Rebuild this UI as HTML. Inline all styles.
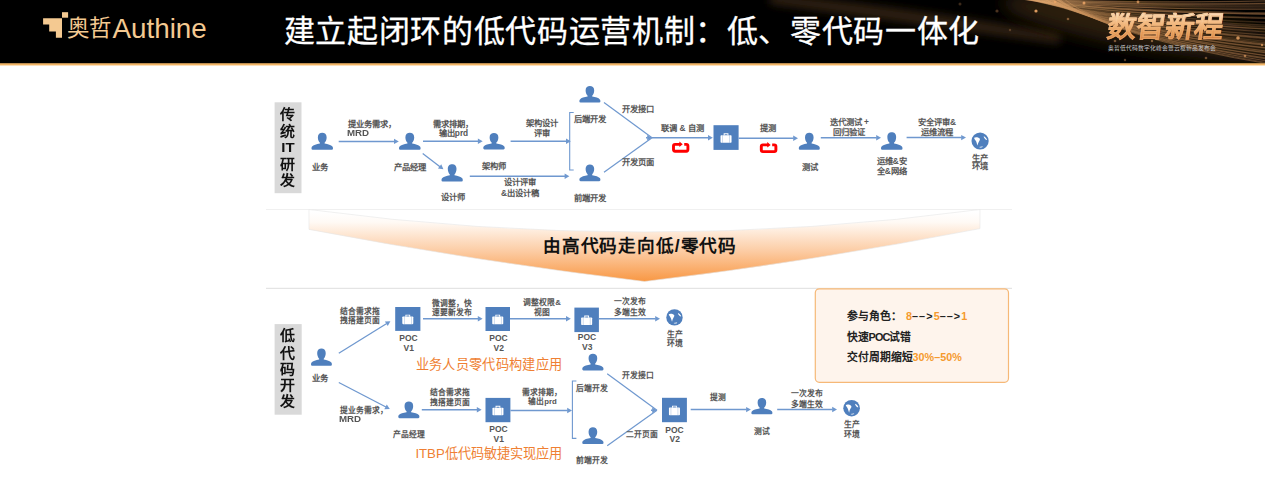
<!DOCTYPE html>
<html lang="zh-CN"><head><meta charset="utf-8"><style>
html,body{margin:0;padding:0;background:#fff;}
body{width:1265px;height:502px;position:relative;overflow:hidden;font-family:"Liberation Sans",sans-serif;}
.t{position:absolute;white-space:nowrap;line-height:1;}
#hdr{position:absolute;left:0;top:0;width:1265px;height:63px;background:#000;overflow:hidden;}
#hline{position:absolute;left:0;top:63px;width:1265px;height:3px;background:linear-gradient(#a27a46 0%,#f2b566 50%,#fff3e2 100%);}
</style></head><body>
<div id="hdr">
<svg width="1265" height="63" style="position:absolute;left:0;top:0">
<defs>
<radialGradient id="glow" cx="1100" cy="10" r="260" gradientUnits="userSpaceOnUse">
<stop offset="0" stop-color="#3a2616" stop-opacity="0.8"/><stop offset="0.6" stop-color="#1e140c" stop-opacity="0.5"/><stop offset="1" stop-color="#000" stop-opacity="0"/></radialGradient>
<filter id="bl4" x="-20%" y="-50%" width="140%" height="200%"><feGaussianBlur stdDeviation="4"/></filter>
<filter id="bl8" x="-50%" y="-100%" width="200%" height="300%"><feGaussianBlur stdDeviation="8"/></filter>
<filter id="bl05" x="-5%" y="-50%" width="110%" height="200%"><feGaussianBlur stdDeviation="0.5"/></filter>
<linearGradient id="gold" x1="0" y1="12" x2="0" y2="40" gradientUnits="userSpaceOnUse">
<stop offset="0" stop-color="#fde3c0"/><stop offset="0.55" stop-color="#eab47c"/><stop offset="1" stop-color="#c47f45"/></linearGradient>
</defs>

<defs><linearGradient id="sg" x1="980" y1="0" x2="1265" y2="30" gradientUnits="userSpaceOnUse"><stop offset="0" stop-color="#c89060" stop-opacity="0.15"/><stop offset="0.22" stop-color="#dca46c" stop-opacity="0.7"/><stop offset="0.45" stop-color="#b98350" stop-opacity="0.75"/><stop offset="1" stop-color="#946640" stop-opacity="0.8"/></linearGradient></defs><g filter="url(#bl4)"><path d="M770 -6 Q900 6 1060 34 L1060 44 Q890 20 770 4 Z" fill="#563822" opacity="0.55"/></g><g filter="url(#bl8)"><ellipse cx="1150" cy="28" rx="150" ry="22" transform="rotate(10 1150 28)" fill="#3c2816" opacity="0.7"/></g><g filter="url(#bl05)"><path d="M986.2 -6.0 Q1065.0 5.0 1275.0 0.7" stroke="url(#sg)" stroke-width="1.26" fill="none" opacity="0.71"/><path d="M989.0 -6.0 Q1065.9 5.7 1275.0 2.7" stroke="url(#sg)" stroke-width="0.93" fill="none" opacity="0.36"/><path d="M992.5 -6.0 Q1066.8 6.4 1275.0 3.3" stroke="url(#sg)" stroke-width="0.68" fill="none" opacity="0.76"/><path d="M989.4 -6.0 Q1067.7 7.1 1275.0 3.5" stroke="url(#sg)" stroke-width="1.00" fill="none" opacity="0.59"/><path d="M986.4 -6.0 Q1068.6 7.8 1275.0 4.8" stroke="url(#sg)" stroke-width="1.24" fill="none" opacity="0.48"/><path d="M995.4 -6.0 Q1069.4 8.6 1275.0 6.1" stroke="url(#sg)" stroke-width="0.70" fill="none" opacity="0.71"/><path d="M995.5 -6.0 Q1070.3 9.3 1275.0 7.4" stroke="url(#sg)" stroke-width="1.21" fill="none" opacity="0.35"/><path d="M993.0 -6.0 Q1071.2 10.0 1275.0 9.1" stroke="url(#sg)" stroke-width="1.21" fill="none" opacity="0.79"/><path d="M995.3 -6.0 Q1072.1 10.7 1275.0 12.8" stroke="url(#sg)" stroke-width="1.07" fill="none" opacity="0.59"/><path d="M996.0 -6.0 Q1073.0 11.4 1275.0 14.1" stroke="url(#sg)" stroke-width="1.28" fill="none" opacity="0.66"/><path d="M1004.5 -6.0 Q1073.9 12.1 1275.0 13.6" stroke="url(#sg)" stroke-width="0.72" fill="none" opacity="0.51"/><path d="M998.6 -6.0 Q1074.8 12.8 1275.0 14.3" stroke="url(#sg)" stroke-width="1.02" fill="none" opacity="0.49"/><path d="M998.7 -6.0 Q1075.7 13.5 1275.0 17.6" stroke="url(#sg)" stroke-width="0.82" fill="none" opacity="0.50"/><path d="M1008.4 -6.0 Q1076.6 14.2 1275.0 18.4" stroke="url(#sg)" stroke-width="0.94" fill="none" opacity="0.49"/><path d="M1008.8 -6.0 Q1077.4 15.0 1275.0 18.6" stroke="url(#sg)" stroke-width="0.62" fill="none" opacity="0.79"/><path d="M1010.8 -6.0 Q1078.3 15.7 1275.0 22.4" stroke="url(#sg)" stroke-width="1.15" fill="none" opacity="0.36"/><path d="M1008.6 -6.0 Q1079.2 16.4 1275.0 23.0" stroke="url(#sg)" stroke-width="0.63" fill="none" opacity="0.35"/><path d="M1008.3 -6.0 Q1080.1 17.1 1275.0 25.5" stroke="url(#sg)" stroke-width="1.13" fill="none" opacity="0.44"/><path d="M1017.3 -6.0 Q1081.0 17.8 1275.0 26.9" stroke="url(#sg)" stroke-width="0.85" fill="none" opacity="0.50"/><path d="M1014.8 -6.0 Q1081.9 18.5 1275.0 27.8" stroke="url(#sg)" stroke-width="1.12" fill="none" opacity="0.40"/><path d="M1019.1 -6.0 Q1082.8 19.2 1275.0 29.5" stroke="url(#sg)" stroke-width="1.26" fill="none" opacity="0.37"/><path d="M1013.6 -6.0 Q1083.7 19.9 1275.0 29.4" stroke="url(#sg)" stroke-width="1.24" fill="none" opacity="0.62"/><path d="M1017.6 -6.0 Q1084.6 20.6 1275.0 32.6" stroke="url(#sg)" stroke-width="0.82" fill="none" opacity="0.60"/><path d="M1018.9 -6.0 Q1085.4 21.4 1275.0 31.7" stroke="url(#sg)" stroke-width="0.70" fill="none" opacity="0.39"/><path d="M1024.2 -6.0 Q1086.3 22.1 1275.0 35.6" stroke="url(#sg)" stroke-width="0.63" fill="none" opacity="0.42"/><path d="M1028.8 -6.0 Q1087.2 22.8 1275.0 35.7" stroke="url(#sg)" stroke-width="0.77" fill="none" opacity="0.53"/><path d="M1026.4 -6.0 Q1088.1 23.5 1275.0 38.0" stroke="url(#sg)" stroke-width="0.90" fill="none" opacity="0.56"/><path d="M1022.6 -6.0 Q1089.0 24.2 1275.0 39.6" stroke="url(#sg)" stroke-width="0.95" fill="none" opacity="0.36"/><path d="M1031.9 -6.0 Q1089.9 24.9 1275.0 38.7" stroke="url(#sg)" stroke-width="1.26" fill="none" opacity="0.68"/><path d="M1031.4 -6.0 Q1090.8 25.6 1275.0 42.1" stroke="url(#sg)" stroke-width="0.90" fill="none" opacity="0.40"/><path d="M1028.2 -6.0 Q1091.7 26.3 1275.0 43.7" stroke="url(#sg)" stroke-width="0.92" fill="none" opacity="0.48"/><path d="M1038.2 -6.0 Q1092.6 27.0 1275.0 45.1" stroke="url(#sg)" stroke-width="0.92" fill="none" opacity="0.79"/><path d="M1034.7 -6.0 Q1093.4 27.8 1275.0 46.2" stroke="url(#sg)" stroke-width="0.80" fill="none" opacity="0.57"/><path d="M1035.4 -6.0 Q1094.3 28.5 1275.0 45.9" stroke="url(#sg)" stroke-width="1.29" fill="none" opacity="0.52"/><path d="M1042.5 -6.0 Q1095.2 29.2 1275.0 48.7" stroke="url(#sg)" stroke-width="0.84" fill="none" opacity="0.57"/><path d="M1035.3 -6.0 Q1096.1 29.9 1275.0 49.1" stroke="url(#sg)" stroke-width="1.21" fill="none" opacity="0.70"/><path d="M1039.6 -6.0 Q1097.0 30.6 1275.0 52.1" stroke="url(#sg)" stroke-width="1.09" fill="none" opacity="0.70"/><path d="M1044.2 -6.0 Q1097.9 31.3 1275.0 53.4" stroke="url(#sg)" stroke-width="1.09" fill="none" opacity="0.51"/><path d="M1041.9 -6.0 Q1098.8 32.0 1275.0 54.0" stroke="url(#sg)" stroke-width="1.08" fill="none" opacity="0.70"/><path d="M1043.6 -6.0 Q1099.7 32.7 1275.0 56.8" stroke="url(#sg)" stroke-width="1.01" fill="none" opacity="0.64"/><path d="M1042.3 -6.0 Q1100.6 33.4 1275.0 57.0" stroke="url(#sg)" stroke-width="1.07" fill="none" opacity="0.46"/><path d="M1048.4 -6.0 Q1101.4 34.2 1275.0 59.3" stroke="url(#sg)" stroke-width="1.16" fill="none" opacity="0.64"/><path d="M1048.8 -6.0 Q1102.3 34.9 1275.0 60.2" stroke="url(#sg)" stroke-width="1.18" fill="none" opacity="0.68"/><path d="M1050.4 -6.0 Q1103.2 35.6 1275.0 62.2" stroke="url(#sg)" stroke-width="1.08" fill="none" opacity="0.74"/><path d="M1058.2 -6.0 Q1104.1 36.3 1275.0 63.9" stroke="url(#sg)" stroke-width="0.97" fill="none" opacity="0.58"/><path d="M1051.7 -6.0 Q1105.0 37.0 1275.0 65.0" stroke="url(#sg)" stroke-width="0.93" fill="none" opacity="0.77"/></g><circle cx="1036" cy="11" r="1.6" fill="#f0a868" opacity="0.9" filter="url(#bl05)"/><circle cx="1068" cy="19" r="1.3" fill="#f0a868" opacity="0.45" filter="url(#bl05)"/><circle cx="1084" cy="3" r="1.5" fill="#f0a868" opacity="0.85" filter="url(#bl05)"/><circle cx="997" cy="11" r="1.6" fill="#f0a868" opacity="0.3" filter="url(#bl05)"/><circle cx="1138" cy="2" r="1.4" fill="#f0a868" opacity="0.7" filter="url(#bl05)"/><circle cx="1238" cy="38" r="1.8" fill="#f0a868" opacity="0.8" filter="url(#bl05)"/><circle cx="1262" cy="45" r="1.2" fill="#f0a868" opacity="0.7" filter="url(#bl05)"/><circle cx="1245" cy="56" r="1.3" fill="#f0a868" opacity="0.6" filter="url(#bl05)"/><circle cx="1152" cy="41" r="1.2" fill="#f0a868" opacity="0.5" filter="url(#bl05)"/><circle cx="1115" cy="41" r="1.3" fill="#f0a868" opacity="0.45" filter="url(#bl05)"/><circle cx="1055" cy="2" r="1.3" fill="#f0a868" opacity="0.7" filter="url(#bl05)"/><circle cx="1206" cy="58" r="1.3" fill="#f0a868" opacity="0.4" filter="url(#bl05)"/><circle cx="1180" cy="26" r="1.0" fill="#f0a868" opacity="0.4" filter="url(#bl05)"/><circle cx="1220" cy="15" r="1.0" fill="#f0a868" opacity="0.35" filter="url(#bl05)"/><circle cx="960" cy="4" r="1.5" fill="#f0a868" opacity="0.25" filter="url(#bl05)"/><circle cx="1010" cy="30" r="1.2" fill="#f0a868" opacity="0.25" filter="url(#bl05)"/><circle cx="1125" cy="60" r="1.2" fill="#f0a868" opacity="0.35" filter="url(#bl05)"/>
<path d="M43.1 18.2 L62 18.2 L62 37.8 L55.9 37.8 L55.9 31.4 L49.2 31.4 L49.2 24.6 L43.1 24.6 Z" fill="#f4c991"/>
<rect x="62" y="12.2" width="6.1" height="5.5" fill="#f4c991"/>
</svg>
<div class="t" style="left:67px;top:17.8px;font-size:22.5px;color:#f4c991;letter-spacing:-0.8px">奥哲</div>
<div class="t" style="left:112.5px;top:14.8px;font-size:27.8px;color:#f4c991;">Authine</div>
<div class="t" style="left:283.6px;top:15.7px;font-size:31px;color:#fff;letter-spacing:0.66px;-webkit-text-stroke:0.3px #fff">建立起闭环的低代码运营机制：低、零代码一体化</div>
<div class="t" style="left:1105.5px;top:12.5px;width:121px;font-size:29px;font-weight:bold;transform-origin:0 0;transform:matrix(1,0,-0.14,1,3.5,0);background:linear-gradient(#fff0d8 0%,#f6c08a 35%,#e39550 68%,#c46e34 100%);-webkit-background-clip:text;background-clip:text;color:transparent;-webkit-text-stroke:0.3px rgba(240,180,120,0.6);">数智新程</div>
<div class="t" style="left:1107.5px;top:45.6px;font-size:5.8px;color:#c4c4c8;">奥哲低代码数字化峰会暨云枢新品发布会</div>
</div>
<div id="hline"></div>
<svg width="1265" height="502" style="position:absolute;left:0;top:0" shape-rendering="geometricPrecision">
<rect x="274.6" y="102.3" width="26.9" height="90.9" fill="#d9d9d9"/><path transform="translate(311.50,132.70) scale(0.9773,0.9714)" d="M6.5 4.6 C6.5 1.3 8.6 0 11 0 C13.4 0 15.5 1.3 15.5 4.6 C15.5 7.3 14.6 9.1 13.4 10.3 L13.4 11.2 C16.8 11.9 20.2 12.6 21.4 14.2 C22 15 22 15.8 22 16.3 Q22 17.5 20.8 17.5 L1.2 17.5 Q0 17.5 0 16.3 C0 15.8 0 15 0.6 14.2 C1.8 12.6 5.2 11.9 8.6 11.2 L8.6 10.3 C7.4 9.1 6.5 7.3 6.5 4.6 Z" fill="#4f7fbd"/><path transform="translate(399.00,132.70) scale(0.9818,0.9714)" d="M6.5 4.6 C6.5 1.3 8.6 0 11 0 C13.4 0 15.5 1.3 15.5 4.6 C15.5 7.3 14.6 9.1 13.4 10.3 L13.4 11.2 C16.8 11.9 20.2 12.6 21.4 14.2 C22 15 22 15.8 22 16.3 Q22 17.5 20.8 17.5 L1.2 17.5 Q0 17.5 0 16.3 C0 15.8 0 15 0.6 14.2 C1.8 12.6 5.2 11.9 8.6 11.2 L8.6 10.3 C7.4 9.1 6.5 7.3 6.5 4.6 Z" fill="#4f7fbd"/><path transform="translate(483.30,132.90) scale(0.9727,0.9429)" d="M6.5 4.6 C6.5 1.3 8.6 0 11 0 C13.4 0 15.5 1.3 15.5 4.6 C15.5 7.3 14.6 9.1 13.4 10.3 L13.4 11.2 C16.8 11.9 20.2 12.6 21.4 14.2 C22 15 22 15.8 22 16.3 Q22 17.5 20.8 17.5 L1.2 17.5 Q0 17.5 0 16.3 C0 15.8 0 15 0.6 14.2 C1.8 12.6 5.2 11.9 8.6 11.2 L8.6 10.3 C7.4 9.1 6.5 7.3 6.5 4.6 Z" fill="#4f7fbd"/><path transform="translate(441.50,164.20) scale(0.9682,0.9886)" d="M6.5 4.6 C6.5 1.3 8.6 0 11 0 C13.4 0 15.5 1.3 15.5 4.6 C15.5 7.3 14.6 9.1 13.4 10.3 L13.4 11.2 C16.8 11.9 20.2 12.6 21.4 14.2 C22 15 22 15.8 22 16.3 Q22 17.5 20.8 17.5 L1.2 17.5 Q0 17.5 0 16.3 C0 15.8 0 15 0.6 14.2 C1.8 12.6 5.2 11.9 8.6 11.2 L8.6 10.3 C7.4 9.1 6.5 7.3 6.5 4.6 Z" fill="#4f7fbd"/><path transform="translate(579.40,85.90) scale(0.9545,0.9543)" d="M6.5 4.6 C6.5 1.3 8.6 0 11 0 C13.4 0 15.5 1.3 15.5 4.6 C15.5 7.3 14.6 9.1 13.4 10.3 L13.4 11.2 C16.8 11.9 20.2 12.6 21.4 14.2 C22 15 22 15.8 22 16.3 Q22 17.5 20.8 17.5 L1.2 17.5 Q0 17.5 0 16.3 C0 15.8 0 15 0.6 14.2 C1.8 12.6 5.2 11.9 8.6 11.2 L8.6 10.3 C7.4 9.1 6.5 7.3 6.5 4.6 Z" fill="#4f7fbd"/><path transform="translate(579.40,164.40) scale(0.9545,0.9600)" d="M6.5 4.6 C6.5 1.3 8.6 0 11 0 C13.4 0 15.5 1.3 15.5 4.6 C15.5 7.3 14.6 9.1 13.4 10.3 L13.4 11.2 C16.8 11.9 20.2 12.6 21.4 14.2 C22 15 22 15.8 22 16.3 Q22 17.5 20.8 17.5 L1.2 17.5 Q0 17.5 0 16.3 C0 15.8 0 15 0.6 14.2 C1.8 12.6 5.2 11.9 8.6 11.2 L8.6 10.3 C7.4 9.1 6.5 7.3 6.5 4.6 Z" fill="#4f7fbd"/><path transform="translate(798.80,132.70) scale(0.9545,0.9714)" d="M6.5 4.6 C6.5 1.3 8.6 0 11 0 C13.4 0 15.5 1.3 15.5 4.6 C15.5 7.3 14.6 9.1 13.4 10.3 L13.4 11.2 C16.8 11.9 20.2 12.6 21.4 14.2 C22 15 22 15.8 22 16.3 Q22 17.5 20.8 17.5 L1.2 17.5 Q0 17.5 0 16.3 C0 15.8 0 15 0.6 14.2 C1.8 12.6 5.2 11.9 8.6 11.2 L8.6 10.3 C7.4 9.1 6.5 7.3 6.5 4.6 Z" fill="#4f7fbd"/><path transform="translate(881.00,132.30) scale(0.9773,1.0000)" d="M6.5 4.6 C6.5 1.3 8.6 0 11 0 C13.4 0 15.5 1.3 15.5 4.6 C15.5 7.3 14.6 9.1 13.4 10.3 L13.4 11.2 C16.8 11.9 20.2 12.6 21.4 14.2 C22 15 22 15.8 22 16.3 Q22 17.5 20.8 17.5 L1.2 17.5 Q0 17.5 0 16.3 C0 15.8 0 15 0.6 14.2 C1.8 12.6 5.2 11.9 8.6 11.2 L8.6 10.3 C7.4 9.1 6.5 7.3 6.5 4.6 Z" fill="#4f7fbd"/><line x1="338.70" y1="141.40" x2="394.50" y2="141.40" stroke="#6f98cf" stroke-width="1.5"/><path d="M398.80 141.40 L394.00 144.10 L394.00 138.70 Z" fill="#6f98cf"/><line x1="423.00" y1="141.20" x2="478.40" y2="141.20" stroke="#6f98cf" stroke-width="1.5"/><path d="M482.70 141.20 L477.90 143.90 L477.90 138.50 Z" fill="#6f98cf"/><line x1="510.60" y1="141.20" x2="566.50" y2="141.20" stroke="#6f98cf" stroke-width="1.5"/><path d="M570.80 141.20 L566.00 143.90 L566.00 138.50 Z" fill="#6f98cf"/><line x1="422.70" y1="153.40" x2="439.99" y2="166.68" stroke="#6f98cf" stroke-width="1.3"/><path d="M443.40 169.30 L437.95 168.52 L441.24 164.23 Z" fill="#6f98cf"/><line x1="469.80" y1="176.30" x2="565.10" y2="176.30" stroke="#6f98cf" stroke-width="1.5"/><path d="M569.40 176.30 L564.60 179.00 L564.60 173.60 Z" fill="#6f98cf"/><path d="M573.70 112.50 L569.70 112.50 L569.70 170.00 L573.70 170.00" fill="none" stroke="#6f98cf" stroke-width="1.1"/><line x1="604.00" y1="102.40" x2="652.00" y2="137.70" stroke="#6f98cf" stroke-width="1.2"/><line x1="604.00" y1="172.20" x2="652.00" y2="137.70" stroke="#6f98cf" stroke-width="1.2"/><line x1="646.00" y1="137.70" x2="647.70" y2="137.70" stroke="#6f98cf" stroke-width="1.5"/><path d="M652.00 137.70 L647.20 140.40 L647.20 135.00 Z" fill="#6f98cf"/><line x1="652.00" y1="137.70" x2="708.50" y2="137.70" stroke="#6f98cf" stroke-width="1.5"/><path d="M712.80 137.70 L708.00 140.40 L708.00 135.00 Z" fill="#6f98cf"/><g transform="translate(672.00,141.40) scale(0.9943,1.0182)"><path d="M8.4 2.9 L3.1 2.9 Q1.5 2.9 1.5 4.5 L1.5 8 Q1.5 9.6 3.1 9.6 L14.4 9.6 Q16 9.6 16 8 L16 4.5 Q16 2.9 14.4 2.9 L12.3 2.9" fill="none" stroke="#ff0000" stroke-width="2.9"/><path d="M7.4 0 L10.8 2.9 L7.4 5.6 Z" fill="#ff0000"/></g><rect x="713.50" y="125.20" width="25.10" height="24.70" fill="#4f7fbd"/><rect x="720.55" y="135.15" width="11" height="7.6" rx="0.8" fill="#fff"/><path d="M723.65 135.35 L723.65 133.25 L728.45 133.25 L728.45 135.35 L727.45 135.35 L727.45 134.15 L724.65 134.15 L724.65 135.35 Z" fill="#fff"/><rect x="722.25" y="135.15" width="0.6" height="7.6" fill="#4f7fbd" opacity="0.45"/><rect x="729.25" y="135.15" width="0.6" height="7.6" fill="#4f7fbd" opacity="0.45"/><line x1="738.60" y1="138.30" x2="793.70" y2="138.30" stroke="#6f98cf" stroke-width="1.5"/><path d="M798.00 138.30 L793.20 141.00 L793.20 135.60 Z" fill="#6f98cf"/><g transform="translate(759.80,142.00) scale(1.0057,1.0000)"><path d="M8.4 2.9 L3.1 2.9 Q1.5 2.9 1.5 4.5 L1.5 8 Q1.5 9.6 3.1 9.6 L14.4 9.6 Q16 9.6 16 8 L16 4.5 Q16 2.9 14.4 2.9 L12.3 2.9" fill="none" stroke="#ff0000" stroke-width="2.9"/><path d="M7.4 0 L10.8 2.9 L7.4 5.6 Z" fill="#ff0000"/></g><line x1="820.80" y1="137.70" x2="876.70" y2="137.70" stroke="#6f98cf" stroke-width="1.5"/><path d="M881.00 137.70 L876.20 140.40 L876.20 135.00 Z" fill="#6f98cf"/><line x1="906.60" y1="137.60" x2="961.70" y2="137.60" stroke="#6f98cf" stroke-width="1.5"/><path d="M966.00 137.60 L961.20 140.30 L961.20 134.90 Z" fill="#6f98cf"/><g transform="translate(980.10,141.00) scale(1.000)"><circle cx="0" cy="0" r="8.6" fill="#4f7fbd"/><path d="M-6 -3.2 C-4.6 -4.3 -2 -3.9 -0.4 -2.4 C0.2 -1.6 -0.5 -0.4 -1.1 0.4 C-1.8 1.4 -2.2 2.8 -2.6 4.6 C-3.2 2.7 -3.6 1 -4.2 0 C-4.8 -1 -6 -2 -6 -3.2 Z" fill="#fff"/><path d="M3.6 -4.7 C5 -4.1 6.6 -2.8 7 -1.1 C6.2 -0.7 5.2 -1.6 4.6 -2.4 C4 -3.2 3.6 -3.8 3.6 -4.7 Z" fill="#fff"/><path d="M-1 6 C0.4 5.5 1.8 5.3 2.9 5.5 C2.1 6.6 0.6 6.9 -1 6 Z" fill="#fff"/></g><line x1="266" y1="209.5" x2="1012" y2="209.5" stroke="#f0f0f0" stroke-width="1"/><defs><linearGradient id="og" x1="0" y1="212" x2="0" y2="283" gradientUnits="userSpaceOnUse"><stop offset="0" stop-color="#ffffff"/><stop offset="0.14" stop-color="#fffaf5"/><stop offset="0.55" stop-color="#fccca4"/><stop offset="1" stop-color="#f8953f"/></linearGradient></defs><path d="M309 209.5 Q644.5 254.5 980 209.5 L980 228.6 Q812.5 261.5 644.5 281.5 Q476.5 261.5 309 229.4 Z" fill="url(#og)" stroke="#e6e6e6" stroke-width="0.6"/><line x1="266" y1="288.3" x2="1012" y2="288.3" stroke="#dedede" stroke-width="1"/><rect x="274.6" y="324.1" width="27.1" height="90.6" fill="#d9d9d9"/><path transform="translate(311.00,348.50) scale(0.9500,0.9886)" d="M6.5 4.6 C6.5 1.3 8.6 0 11 0 C13.4 0 15.5 1.3 15.5 4.6 C15.5 7.3 14.6 9.1 13.4 10.3 L13.4 11.2 C16.8 11.9 20.2 12.6 21.4 14.2 C22 15 22 15.8 22 16.3 Q22 17.5 20.8 17.5 L1.2 17.5 Q0 17.5 0 16.3 C0 15.8 0 15 0.6 14.2 C1.8 12.6 5.2 11.9 8.6 11.2 L8.6 10.3 C7.4 9.1 6.5 7.3 6.5 4.6 Z" fill="#4f7fbd"/><line x1="338.80" y1="353.30" x2="386.75" y2="323.47" stroke="#6f98cf" stroke-width="1.3"/><path d="M390.40 321.20 L387.75 326.03 L384.90 321.44 Z" fill="#6f98cf"/><rect x="395.20" y="307.00" width="25.20" height="23.90" fill="#4f7fbd"/><rect x="402.30" y="316.55" width="11" height="7.6" rx="0.8" fill="#fff"/><path d="M405.40 316.75 L405.40 314.65 L410.20 314.65 L410.20 316.75 L409.20 316.75 L409.20 315.55 L406.40 315.55 L406.40 316.75 Z" fill="#fff"/><rect x="404.00" y="316.55" width="0.6" height="7.6" fill="#4f7fbd" opacity="0.45"/><rect x="411.00" y="316.55" width="0.6" height="7.6" fill="#4f7fbd" opacity="0.45"/><line x1="423.00" y1="318.70" x2="478.30" y2="318.70" stroke="#6f98cf" stroke-width="1.5"/><path d="M482.60 318.70 L477.80 321.40 L477.80 316.00 Z" fill="#6f98cf"/><rect x="485.50" y="307.00" width="24.50" height="24.00" fill="#4f7fbd"/><rect x="492.25" y="316.60" width="11" height="7.6" rx="0.8" fill="#fff"/><path d="M495.35 316.80 L495.35 314.70 L500.15 314.70 L500.15 316.80 L499.15 316.80 L499.15 315.60 L496.35 315.60 L496.35 316.80 Z" fill="#fff"/><rect x="493.95" y="316.60" width="0.6" height="7.6" fill="#4f7fbd" opacity="0.45"/><rect x="500.95" y="316.60" width="0.6" height="7.6" fill="#4f7fbd" opacity="0.45"/><line x1="510.00" y1="318.70" x2="566.50" y2="318.70" stroke="#6f98cf" stroke-width="1.5"/><path d="M570.80 318.70 L566.00 321.40 L566.00 316.00 Z" fill="#6f98cf"/><rect x="574.40" y="307.60" width="24.50" height="24.50" fill="#4f7fbd"/><rect x="581.15" y="317.45" width="11" height="7.6" rx="0.8" fill="#fff"/><path d="M584.25 317.65 L584.25 315.55 L589.05 315.55 L589.05 317.65 L588.05 317.65 L588.05 316.45 L585.25 316.45 L585.25 317.65 Z" fill="#fff"/><rect x="582.85" y="317.45" width="0.6" height="7.6" fill="#4f7fbd" opacity="0.45"/><rect x="589.85" y="317.45" width="0.6" height="7.6" fill="#4f7fbd" opacity="0.45"/><line x1="598.90" y1="318.70" x2="655.70" y2="318.70" stroke="#6f98cf" stroke-width="1.5"/><path d="M660.00 318.70 L655.20 321.40 L655.20 316.00 Z" fill="#6f98cf"/><g transform="translate(674.50,317.40) scale(0.953)"><circle cx="0" cy="0" r="8.6" fill="#4f7fbd"/><path d="M-6 -3.2 C-4.6 -4.3 -2 -3.9 -0.4 -2.4 C0.2 -1.6 -0.5 -0.4 -1.1 0.4 C-1.8 1.4 -2.2 2.8 -2.6 4.6 C-3.2 2.7 -3.6 1 -4.2 0 C-4.8 -1 -6 -2 -6 -3.2 Z" fill="#fff"/><path d="M3.6 -4.7 C5 -4.1 6.6 -2.8 7 -1.1 C6.2 -0.7 5.2 -1.6 4.6 -2.4 C4 -3.2 3.6 -3.8 3.6 -4.7 Z" fill="#fff"/><path d="M-1 6 C0.4 5.5 1.8 5.3 2.9 5.5 C2.1 6.6 0.6 6.9 -1 6 Z" fill="#fff"/></g><line x1="338.80" y1="382.50" x2="385.98" y2="407.02" stroke="#6f98cf" stroke-width="1.3"/><path d="M389.80 409.00 L384.30 409.18 L386.79 404.39 Z" fill="#6f98cf"/><path transform="translate(398.30,401.50) scale(0.9591,0.9543)" d="M6.5 4.6 C6.5 1.3 8.6 0 11 0 C13.4 0 15.5 1.3 15.5 4.6 C15.5 7.3 14.6 9.1 13.4 10.3 L13.4 11.2 C16.8 11.9 20.2 12.6 21.4 14.2 C22 15 22 15.8 22 16.3 Q22 17.5 20.8 17.5 L1.2 17.5 Q0 17.5 0 16.3 C0 15.8 0 15 0.6 14.2 C1.8 12.6 5.2 11.9 8.6 11.2 L8.6 10.3 C7.4 9.1 6.5 7.3 6.5 4.6 Z" fill="#4f7fbd"/><line x1="421.80" y1="409.80" x2="477.30" y2="409.80" stroke="#6f98cf" stroke-width="1.5"/><path d="M481.60 409.80 L476.80 412.50 L476.80 407.10 Z" fill="#6f98cf"/><rect x="485.50" y="397.90" width="24.90" height="24.30" fill="#4f7fbd"/><rect x="492.45" y="407.65" width="11" height="7.6" rx="0.8" fill="#fff"/><path d="M495.55 407.85 L495.55 405.75 L500.35 405.75 L500.35 407.85 L499.35 407.85 L499.35 406.65 L496.55 406.65 L496.55 407.85 Z" fill="#fff"/><rect x="494.15" y="407.65" width="0.6" height="7.6" fill="#4f7fbd" opacity="0.45"/><rect x="501.15" y="407.65" width="0.6" height="7.6" fill="#4f7fbd" opacity="0.45"/><line x1="510.40" y1="410.50" x2="567.70" y2="410.50" stroke="#6f98cf" stroke-width="1.5"/><path d="M572.00 410.50 L567.20 413.20 L567.20 407.80 Z" fill="#6f98cf"/><path d="M576.40 381.00 L572.40 381.00 L572.40 438.40 L576.40 438.40" fill="none" stroke="#6f98cf" stroke-width="1.1"/><path transform="translate(582.30,353.70) scale(0.9636,0.9543)" d="M6.5 4.6 C6.5 1.3 8.6 0 11 0 C13.4 0 15.5 1.3 15.5 4.6 C15.5 7.3 14.6 9.1 13.4 10.3 L13.4 11.2 C16.8 11.9 20.2 12.6 21.4 14.2 C22 15 22 15.8 22 16.3 Q22 17.5 20.8 17.5 L1.2 17.5 Q0 17.5 0 16.3 C0 15.8 0 15 0.6 14.2 C1.8 12.6 5.2 11.9 8.6 11.2 L8.6 10.3 C7.4 9.1 6.5 7.3 6.5 4.6 Z" fill="#4f7fbd"/><path transform="translate(582.30,427.20) scale(0.9636,0.9657)" d="M6.5 4.6 C6.5 1.3 8.6 0 11 0 C13.4 0 15.5 1.3 15.5 4.6 C15.5 7.3 14.6 9.1 13.4 10.3 L13.4 11.2 C16.8 11.9 20.2 12.6 21.4 14.2 C22 15 22 15.8 22 16.3 Q22 17.5 20.8 17.5 L1.2 17.5 Q0 17.5 0 16.3 C0 15.8 0 15 0.6 14.2 C1.8 12.6 5.2 11.9 8.6 11.2 L8.6 10.3 C7.4 9.1 6.5 7.3 6.5 4.6 Z" fill="#4f7fbd"/><line x1="607.20" y1="373.70" x2="657.00" y2="410.20" stroke="#6f98cf" stroke-width="1.2"/><line x1="607.20" y1="445.80" x2="657.00" y2="410.20" stroke="#6f98cf" stroke-width="1.2"/><line x1="651.00" y1="410.20" x2="652.70" y2="410.20" stroke="#6f98cf" stroke-width="1.5"/><path d="M657.00 410.20 L652.20 412.90 L652.20 407.50 Z" fill="#6f98cf"/><rect x="662.00" y="397.80" width="24.90" height="24.40" fill="#4f7fbd"/><rect x="668.95" y="407.60" width="11" height="7.6" rx="0.8" fill="#fff"/><path d="M672.05 407.80 L672.05 405.70 L676.85 405.70 L676.85 407.80 L675.85 407.80 L675.85 406.60 L673.05 406.60 L673.05 407.80 Z" fill="#fff"/><rect x="670.65" y="407.60" width="0.6" height="7.6" fill="#4f7fbd" opacity="0.45"/><rect x="677.65" y="407.60" width="0.6" height="7.6" fill="#4f7fbd" opacity="0.45"/><line x1="690.70" y1="409.60" x2="746.60" y2="409.60" stroke="#6f98cf" stroke-width="1.5"/><path d="M750.90 409.60 L746.10 412.30 L746.10 406.90 Z" fill="#6f98cf"/><path transform="translate(751.40,397.90) scale(0.9545,0.9371)" d="M6.5 4.6 C6.5 1.3 8.6 0 11 0 C13.4 0 15.5 1.3 15.5 4.6 C15.5 7.3 14.6 9.1 13.4 10.3 L13.4 11.2 C16.8 11.9 20.2 12.6 21.4 14.2 C22 15 22 15.8 22 16.3 Q22 17.5 20.8 17.5 L1.2 17.5 Q0 17.5 0 16.3 C0 15.8 0 15 0.6 14.2 C1.8 12.6 5.2 11.9 8.6 11.2 L8.6 10.3 C7.4 9.1 6.5 7.3 6.5 4.6 Z" fill="#4f7fbd"/><line x1="777.20" y1="409.50" x2="832.70" y2="409.50" stroke="#6f98cf" stroke-width="1.5"/><path d="M837.00 409.50 L832.20 412.20 L832.20 406.80 Z" fill="#6f98cf"/><g transform="translate(851.60,408.20) scale(0.965)"><circle cx="0" cy="0" r="8.6" fill="#4f7fbd"/><path d="M-6 -3.2 C-4.6 -4.3 -2 -3.9 -0.4 -2.4 C0.2 -1.6 -0.5 -0.4 -1.1 0.4 C-1.8 1.4 -2.2 2.8 -2.6 4.6 C-3.2 2.7 -3.6 1 -4.2 0 C-4.8 -1 -6 -2 -6 -3.2 Z" fill="#fff"/><path d="M3.6 -4.7 C5 -4.1 6.6 -2.8 7 -1.1 C6.2 -0.7 5.2 -1.6 4.6 -2.4 C4 -3.2 3.6 -3.8 3.6 -4.7 Z" fill="#fff"/><path d="M-1 6 C0.4 5.5 1.8 5.3 2.9 5.5 C2.1 6.6 0.6 6.9 -1 6 Z" fill="#fff"/></g><rect x="815.3" y="288.8" width="193.2" height="93.5" rx="4" fill="#fef4ec" stroke="#f6b877" stroke-width="1.2"/>
</svg>
<div class="t" style="left:138.00px;top:108.09px;width:300px;text-align:center;font-size:13.6px;font-weight:bold;color:#111;letter-spacing:0px;transform:scaleX(1.1)">传</div><div class="t" style="left:138.00px;top:124.99px;width:300px;text-align:center;font-size:13.6px;font-weight:bold;color:#111;letter-spacing:0px;transform:scaleX(1.1)">统</div><div class="t" style="left:138.00px;top:140.89px;width:300px;text-align:center;font-size:13.6px;font-weight:bold;color:#111;letter-spacing:0px;transform:scaleX(1.1)">IT</div><div class="t" style="left:138.00px;top:157.89px;width:300px;text-align:center;font-size:13.6px;font-weight:bold;color:#111;letter-spacing:0px;transform:scaleX(1.1)">研</div><div class="t" style="left:138.00px;top:173.79px;width:300px;text-align:center;font-size:13.6px;font-weight:bold;color:#111;letter-spacing:0px;transform:scaleX(1.1)">发</div><div class="t" style="left:169.70px;top:162.75px;width:300px;text-align:center;font-size:8.3px;font-weight:bold;color:#555555;letter-spacing:0px;">业务</div><div class="t" style="left:260.00px;top:162.75px;width:300px;text-align:center;font-size:8.3px;font-weight:bold;color:#555555;letter-spacing:0px;">产品经理</div><div class="t" style="left:343.70px;top:161.75px;width:300px;text-align:center;font-size:8.3px;font-weight:bold;color:#555555;letter-spacing:0px;">架构师</div><div class="t" style="left:302.50px;top:193.15px;width:300px;text-align:center;font-size:8.3px;font-weight:bold;color:#555555;letter-spacing:0px;">设计师</div><div class="t" style="left:439.70px;top:114.95px;width:300px;text-align:center;font-size:8.3px;font-weight:bold;color:#555555;letter-spacing:0px;">后端开发</div><div class="t" style="left:439.70px;top:193.55px;width:300px;text-align:center;font-size:8.3px;font-weight:bold;color:#555555;letter-spacing:0px;">前端开发</div><div class="t" style="left:659.50px;top:162.75px;width:300px;text-align:center;font-size:8.3px;font-weight:bold;color:#555555;letter-spacing:0px;">测试</div><div class="t" style="left:741.70px;top:157.15px;width:300px;text-align:center;font-size:8.3px;font-weight:bold;color:#555555;letter-spacing:0px;">运维&amp;安</div><div class="t" style="left:741.70px;top:166.95px;width:300px;text-align:center;font-size:8.3px;font-weight:bold;color:#555555;letter-spacing:0px;">全&amp;网络</div><div class="t" style="left:347.80px;top:120.45px;font-size:8.3px;font-weight:bold;color:#555555;letter-spacing:0px;">提业务需求，</div><div class="t" style="left:346.80px;top:129.44px;font-size:8.6px;font-weight:bold;color:#555555;letter-spacing:0px;transform:scaleX(1.13);transform-origin:0 0">MRD</div><div class="t" style="left:302.50px;top:119.75px;width:300px;text-align:center;font-size:8.3px;font-weight:bold;color:#555555;letter-spacing:0px;">需求排期，</div><div class="t" style="left:303.50px;top:129.35px;width:300px;text-align:center;font-size:8.3px;font-weight:bold;color:#555555;letter-spacing:0px;">输出prd</div><div class="t" style="left:392.00px;top:118.75px;width:300px;text-align:center;font-size:8.3px;font-weight:bold;color:#555555;letter-spacing:0px;">架构设计</div><div class="t" style="left:392.00px;top:129.35px;width:300px;text-align:center;font-size:8.3px;font-weight:bold;color:#555555;letter-spacing:0px;">评审</div><div class="t" style="left:369.60px;top:178.45px;width:300px;text-align:center;font-size:8.3px;font-weight:bold;color:#555555;letter-spacing:0px;">设计评审</div><div class="t" style="left:370.00px;top:189.15px;width:300px;text-align:center;font-size:8.3px;font-weight:bold;color:#555555;letter-spacing:0px;">&amp;出设计稿</div><div class="t" style="left:487.50px;top:105.15px;width:300px;text-align:center;font-size:8.3px;font-weight:bold;color:#555555;letter-spacing:0px;">开发接口</div><div class="t" style="left:487.50px;top:157.95px;width:300px;text-align:center;font-size:8.3px;font-weight:bold;color:#555555;letter-spacing:0px;">开发页面</div><div class="t" style="left:532.40px;top:123.75px;width:300px;text-align:center;font-size:8.3px;font-weight:bold;color:#555555;letter-spacing:0px;">联调 &amp; 自测</div><div class="t" style="left:618.30px;top:123.65px;width:300px;text-align:center;font-size:8.3px;font-weight:bold;color:#555555;letter-spacing:0px;">提测</div><div class="t" style="left:699.40px;top:118.35px;width:300px;text-align:center;font-size:8.3px;font-weight:bold;color:#555555;letter-spacing:0px;">迭代测试 +</div><div class="t" style="left:699.40px;top:127.95px;width:300px;text-align:center;font-size:8.3px;font-weight:bold;color:#555555;letter-spacing:0px;">回归验证</div><div class="t" style="left:787.00px;top:117.75px;width:300px;text-align:center;font-size:8.3px;font-weight:bold;color:#555555;letter-spacing:0px;">安全评审&amp;</div><div class="t" style="left:787.00px;top:128.35px;width:300px;text-align:center;font-size:8.3px;font-weight:bold;color:#555555;letter-spacing:0px;">运维流程</div><div class="t" style="left:829.80px;top:153.75px;width:300px;text-align:center;font-size:8.3px;font-weight:bold;color:#555555;letter-spacing:0px;">生产</div><div class="t" style="left:829.80px;top:162.35px;width:300px;text-align:center;font-size:8.3px;font-weight:bold;color:#555555;letter-spacing:0px;">环境</div><div class="t" style="left:490.00px;top:237.57px;width:300px;text-align:center;font-size:17.6px;font-weight:bold;color:#111;letter-spacing:0.85px;">由高代码走向低/零代码</div><div class="t" style="left:138.00px;top:329.29px;width:300px;text-align:center;font-size:13.6px;font-weight:bold;color:#111;letter-spacing:0px;transform:scaleX(1.1)">低</div><div class="t" style="left:138.00px;top:346.59px;width:300px;text-align:center;font-size:13.6px;font-weight:bold;color:#111;letter-spacing:0px;transform:scaleX(1.1)">代</div><div class="t" style="left:138.00px;top:363.29px;width:300px;text-align:center;font-size:13.6px;font-weight:bold;color:#111;letter-spacing:0px;transform:scaleX(1.1)">码</div><div class="t" style="left:138.00px;top:379.09px;width:300px;text-align:center;font-size:13.6px;font-weight:bold;color:#111;letter-spacing:0px;transform:scaleX(1.1)">开</div><div class="t" style="left:138.00px;top:395.39px;width:300px;text-align:center;font-size:13.6px;font-weight:bold;color:#111;letter-spacing:0px;transform:scaleX(1.1)">发</div><div class="t" style="left:169.70px;top:374.45px;width:300px;text-align:center;font-size:8.3px;font-weight:bold;color:#555555;letter-spacing:0px;">业务</div><div class="t" style="left:340.00px;top:307.57px;font-size:7.8px;font-weight:bold;color:#555555;letter-spacing:0px;">结合需求拖</div><div class="t" style="left:340.00px;top:316.67px;font-size:7.8px;font-weight:bold;color:#555555;letter-spacing:0px;">拽搭建页面</div><div class="t" style="left:258.50px;top:333.64px;width:300px;text-align:center;font-size:8.5px;font-weight:bold;color:#555555;letter-spacing:0px;">POC</div><div class="t" style="left:258.80px;top:343.85px;width:300px;text-align:center;font-size:8.5px;font-weight:bold;color:#555555;letter-spacing:0px;">V1</div><div class="t" style="left:301.70px;top:300.17px;width:300px;text-align:center;font-size:7.8px;font-weight:bold;color:#555555;letter-spacing:0px;">微调整，快</div><div class="t" style="left:301.70px;top:309.27px;width:300px;text-align:center;font-size:7.8px;font-weight:bold;color:#555555;letter-spacing:0px;">速要新发布</div><div class="t" style="left:348.50px;top:333.64px;width:300px;text-align:center;font-size:8.5px;font-weight:bold;color:#555555;letter-spacing:0px;">POC</div><div class="t" style="left:348.80px;top:343.85px;width:300px;text-align:center;font-size:8.5px;font-weight:bold;color:#555555;letter-spacing:0px;">V2</div><div class="t" style="left:392.00px;top:299.47px;width:300px;text-align:center;font-size:7.8px;font-weight:bold;color:#555555;letter-spacing:0px;">调整权限&amp;</div><div class="t" style="left:392.00px;top:309.27px;width:300px;text-align:center;font-size:7.8px;font-weight:bold;color:#555555;letter-spacing:0px;">视图</div><div class="t" style="left:437.00px;top:333.25px;width:300px;text-align:center;font-size:8.5px;font-weight:bold;color:#555555;letter-spacing:0px;">POC</div><div class="t" style="left:437.30px;top:343.05px;width:300px;text-align:center;font-size:8.5px;font-weight:bold;color:#555555;letter-spacing:0px;">V3</div><div class="t" style="left:480.00px;top:298.47px;width:300px;text-align:center;font-size:7.8px;font-weight:bold;color:#555555;letter-spacing:0px;">一次发布</div><div class="t" style="left:480.00px;top:309.27px;width:300px;text-align:center;font-size:7.8px;font-weight:bold;color:#555555;letter-spacing:0px;">多端生效</div><div class="t" style="left:524.50px;top:330.67px;width:300px;text-align:center;font-size:7.8px;font-weight:bold;color:#555555;letter-spacing:0px;">生产</div><div class="t" style="left:524.50px;top:339.67px;width:300px;text-align:center;font-size:7.8px;font-weight:bold;color:#555555;letter-spacing:0px;">环境</div><div class="t" style="left:415.80px;top:357.60px;font-size:13.2px;font-weight:normal;color:#ef7f33;letter-spacing:0.33px;">业务人员零代码构建应用</div><div class="t" style="left:340.00px;top:407.47px;font-size:7.8px;font-weight:bold;color:#555555;letter-spacing:0px;">提业务需求，</div><div class="t" style="left:339.20px;top:415.34px;font-size:8.6px;font-weight:bold;color:#555555;letter-spacing:0px;transform:scaleX(1.13);transform-origin:0 0">MRD</div><div class="t" style="left:258.80px;top:431.17px;width:300px;text-align:center;font-size:7.8px;font-weight:bold;color:#555555;letter-spacing:0px;">产品经理</div><div class="t" style="left:300.20px;top:389.37px;width:300px;text-align:center;font-size:7.8px;font-weight:bold;color:#555555;letter-spacing:0px;">结合需求拖</div><div class="t" style="left:300.20px;top:399.37px;width:300px;text-align:center;font-size:7.8px;font-weight:bold;color:#555555;letter-spacing:0px;">拽搭建页面</div><div class="t" style="left:348.50px;top:425.25px;width:300px;text-align:center;font-size:8.5px;font-weight:bold;color:#555555;letter-spacing:0px;">POC</div><div class="t" style="left:348.80px;top:434.75px;width:300px;text-align:center;font-size:8.5px;font-weight:bold;color:#555555;letter-spacing:0px;">V1</div><div class="t" style="left:392.00px;top:388.77px;width:300px;text-align:center;font-size:7.8px;font-weight:bold;color:#555555;letter-spacing:0px;">需求排期，</div><div class="t" style="left:392.50px;top:398.07px;width:300px;text-align:center;font-size:7.8px;font-weight:bold;color:#555555;letter-spacing:0px;">输出prd</div><div class="t" style="left:442.20px;top:385.37px;width:300px;text-align:center;font-size:7.8px;font-weight:bold;color:#555555;letter-spacing:0px;">后端开发</div><div class="t" style="left:442.20px;top:457.47px;width:300px;text-align:center;font-size:7.8px;font-weight:bold;color:#555555;letter-spacing:0px;">前端开发</div><div class="t" style="left:487.70px;top:372.37px;width:300px;text-align:center;font-size:7.8px;font-weight:bold;color:#555555;letter-spacing:0px;">开发接口</div><div class="t" style="left:491.70px;top:431.37px;width:300px;text-align:center;font-size:7.8px;font-weight:bold;color:#555555;letter-spacing:0px;">二开页面</div><div class="t" style="left:524.50px;top:426.05px;width:300px;text-align:center;font-size:8.5px;font-weight:bold;color:#555555;letter-spacing:0px;">POC</div><div class="t" style="left:524.80px;top:435.25px;width:300px;text-align:center;font-size:8.5px;font-weight:bold;color:#555555;letter-spacing:0px;">V2</div><div class="t" style="left:567.50px;top:394.37px;width:300px;text-align:center;font-size:7.8px;font-weight:bold;color:#555555;letter-spacing:0px;">提测</div><div class="t" style="left:612.00px;top:427.87px;width:300px;text-align:center;font-size:7.8px;font-weight:bold;color:#555555;letter-spacing:0px;">测试</div><div class="t" style="left:657.00px;top:390.37px;width:300px;text-align:center;font-size:7.8px;font-weight:bold;color:#555555;letter-spacing:0px;">一次发布</div><div class="t" style="left:657.00px;top:400.77px;width:300px;text-align:center;font-size:7.8px;font-weight:bold;color:#555555;letter-spacing:0px;">多端生效</div><div class="t" style="left:701.70px;top:421.47px;width:300px;text-align:center;font-size:7.8px;font-weight:bold;color:#555555;letter-spacing:0px;">生产</div><div class="t" style="left:701.70px;top:431.07px;width:300px;text-align:center;font-size:7.8px;font-weight:bold;color:#555555;letter-spacing:0px;">环境</div><div class="t" style="left:415.40px;top:447.20px;font-size:13.2px;font-weight:normal;color:#ef7f33;letter-spacing:0px;">ITBP低代码敏捷实现应用</div><div class="t" style="left:846.60px;top:311.48px;font-size:10.8px;font-weight:bold;color:#222;letter-spacing:0px;">参与角色：</div><div class="t" style="left:906.00px;top:311.48px;font-size:10.8px;font-weight:bold;color:#222;letter-spacing:0px;"><span style="color:#f59a2e">8</span><span style="letter-spacing:1.1px">&ndash;&ndash;&gt;</span><span style="color:#f59a2e">5</span><span style="letter-spacing:1.1px">&ndash;&ndash;&gt;</span><span style="color:#f59a2e">1</span></div><div class="t" style="left:846.60px;top:332.48px;font-size:10.8px;font-weight:bold;color:#222;letter-spacing:0px;">快速<span style="letter-spacing:-0.9px">POC</span>试错</div><div class="t" style="left:846.60px;top:352.08px;font-size:10.8px;font-weight:bold;color:#222;letter-spacing:0px;">交付周期缩短<span style="color:#f59a2e">30%&ndash;50%</span></div>
</body></html>
